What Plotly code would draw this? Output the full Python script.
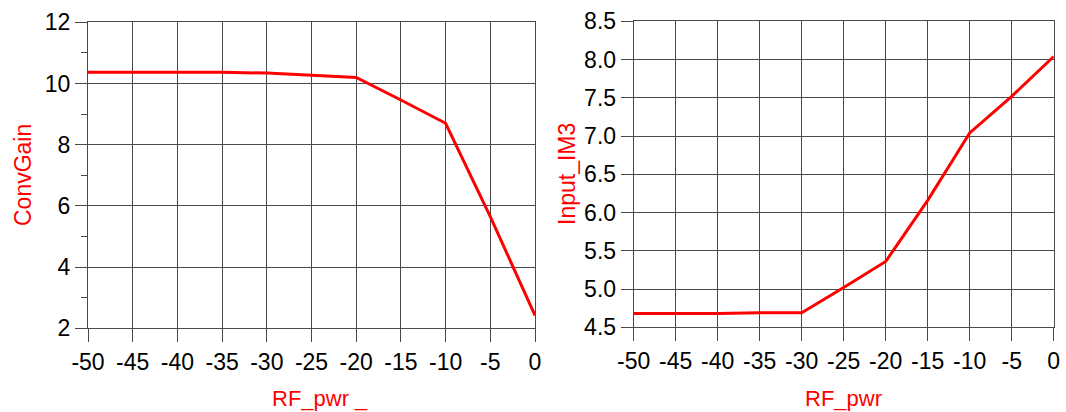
import plotly.graph_objects as go

rf_pwr = [-50, -45, -40, -35, -30, -25, -20, -15, -10, -5, 0]
conv_gain = [10.37, 10.37, 10.37, 10.37, 10.34, 10.27, 10.20, 9.46, 8.70, 5.65, 2.42]
input_im3 = [4.68, 4.68, 4.68, 4.69, 4.69, 5.02, 5.36, 6.16, 7.04, 7.52, 8.04]

x_ticks = [-50, -45, -40, -35, -30, -25, -20, -15, -10, -5, 0]
x_tick_labels = ["-50", "-45", "-40", "-35", "-30", "-25", "-20", "-15", "-10", "-5", "0"]

W, H = 1066, 412
FONT = "Arial, 'Liberation Sans', sans-serif"
GRID = "#4a4a4a"

fig = go.Figure()
fig.add_trace(go.Scatter(x=rf_pwr, y=conv_gain, mode="lines",
                         line=dict(color="#ff0000", width=3), xaxis="x", yaxis="y"))
fig.add_trace(go.Scatter(x=rf_pwr, y=input_im3, mode="lines",
                         line=dict(color="#ff0000", width=3), xaxis="x2", yaxis="y2"))

def xax(domain, anchor):
    return dict(domain=domain, anchor=anchor, range=[-50, 0],
                tickmode="array", tickvals=x_ticks, ticktext=x_tick_labels, automargin=False,
                showgrid=True, gridcolor=GRID, gridwidth=1, zeroline=False,
                showline=True, mirror=True, linecolor=GRID, linewidth=1,
                ticks="outside", ticklen=13, tickcolor=GRID, tickwidth=1,
                tickfont=dict(family=FONT, size=23, color="black"))

def yax(domain, anchor, rng, dtick, fmt, minor=None):
    d = dict(domain=domain, anchor=anchor, range=rng, dtick=dtick, tickformat=fmt,
             automargin=False,
             showgrid=True, gridcolor=GRID, gridwidth=1, zeroline=False,
             showline=True, mirror=True, linecolor=GRID, linewidth=1,
             ticks="outside", ticklen=12, tickcolor=GRID, tickwidth=1,
             tickfont=dict(family=FONT, size=23, color="black"))
    if minor:
        d["minor"] = minor
    return d

fig.update_layout(
    width=W, height=H, margin=dict(l=0, r=0, t=0, b=0, autoexpand=False),
    paper_bgcolor="white", plot_bgcolor="white", showlegend=False,
    xaxis=xax([88 / W, 535 / W], "y"),
    yaxis=yax([1 - 328.3 / H, 1 - 22.3 / H], "x", [2, 12], 2, "d",
              minor=dict(ticks="outside", ticklen=6, dtick=1, tickcolor=GRID, showgrid=False)),
    xaxis2=xax([633.7 / W, 1053.7 / W], "y2"),
    yaxis2=yax([1 - 327.3 / H, 1 - 21.3 / H], "x2", [4.5, 8.5], 0.5, ".1f"),
)

title_font = dict(family=FONT, size=23, color="#ff0000")
fig.add_annotation(text="ConvGain", xref="paper", yref="paper", x=23 / W, y=1 - 175 / H,
                   xanchor="center", yanchor="middle", textangle=-90, showarrow=False, font=title_font)
fig.add_annotation(text="Input_IM3", xref="paper", yref="paper", x=567 / W, y=1 - 174 / H,
                   xanchor="center", yanchor="middle", textangle=-90, showarrow=False, font=title_font)
fig.add_annotation(text="RF_pwr _", xref="paper", yref="paper", x=270 / W, y=1 - 398 / H,
                   xanchor="left", yanchor="middle", showarrow=False, font=dict(family=FONT, size=22, color="#ff0000"))
fig.add_annotation(text="RF_pwr", xref="paper", yref="paper", x=843.5 / W, y=1 - 398 / H,
                   xanchor="center", yanchor="middle", showarrow=False, font=dict(family=FONT, size=22, color="#ff0000"))

fig.write_html("out.html")
